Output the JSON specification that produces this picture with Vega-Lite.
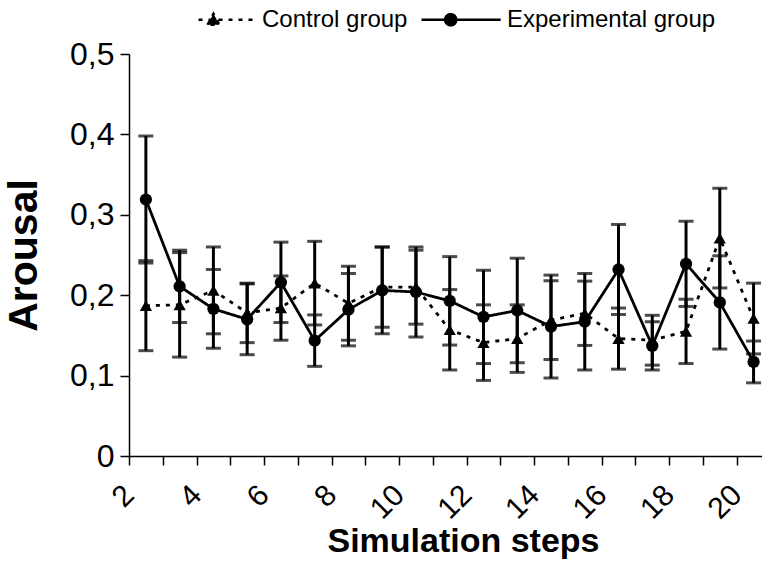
{
  "$schema": "https://vega.github.io/schema/vega-lite/v6.json",
  "autosize": {"type": "none"},
  "width": 633,
  "height": 402,
  "padding": {"left": 129, "top": 54, "right": 0, "bottom": 113},
  "background": "white",
  "config": {
    "view": {"stroke": null},
    "font": "Liberation Sans",
    "axis": {
      "domainColor": "black", "domainWidth": 1.5,
      "tickColor": "black", "tickWidth": 1.5, "tickSize": 9,
      "labelFont": "Liberation Sans", "labelFontSize": 32, "labelColor": "black",
      "titleFont": "Liberation Sans", "titleFontWeight": "bold", "titleColor": "black",
      "grid": false
    },
    "legend": {"labelFont": "Liberation Sans", "labelFontSize": 24, "labelColor": "black", "padding": 0}
  },
  "data": {
    "values": [
      {"step": 2, "group": "Control group", "mean": 0.187, "err": 0.056},
      {"step": 3, "group": "Control group", "mean": 0.188, "err": 0.065},
      {"step": 4, "group": "Control group", "mean": 0.206, "err": 0.054},
      {"step": 5, "group": "Control group", "mean": 0.178, "err": 0.037},
      {"step": 6, "group": "Control group", "mean": 0.184, "err": 0.040},
      {"step": 7, "group": "Control group", "mean": 0.215, "err": 0.052},
      {"step": 8, "group": "Control group", "mean": 0.190, "err": 0.046},
      {"step": 9, "group": "Control group", "mean": 0.210, "err": 0.050},
      {"step": 10, "group": "Control group", "mean": 0.210, "err": 0.046},
      {"step": 11, "group": "Control group", "mean": 0.157, "err": 0.050},
      {"step": 12, "group": "Control group", "mean": 0.141, "err": 0.047},
      {"step": 13, "group": "Control group", "mean": 0.146, "err": 0.042},
      {"step": 14, "group": "Control group", "mean": 0.169, "err": 0.049},
      {"step": 15, "group": "Control group", "mean": 0.1775, "err": 0.040},
      {"step": 16, "group": "Control group", "mean": 0.146, "err": 0.038},
      {"step": 17, "group": "Control group", "mean": 0.144, "err": 0.031},
      {"step": 18, "group": "Control group", "mean": 0.155, "err": 0.040},
      {"step": 19, "group": "Control group", "mean": 0.271, "err": 0.062},
      {"step": 20, "group": "Control group", "mean": 0.171, "err": 0.044},
      {"step": 2, "group": "Experimental group", "mean": 0.319, "err": 0.079},
      {"step": 3, "group": "Experimental group", "mean": 0.211, "err": 0.045},
      {"step": 4, "group": "Experimental group", "mean": 0.183, "err": 0.049},
      {"step": 5, "group": "Experimental group", "mean": 0.170, "err": 0.044},
      {"step": 6, "group": "Experimental group", "mean": 0.216, "err": 0.050},
      {"step": 7, "group": "Experimental group", "mean": 0.1435, "err": 0.032},
      {"step": 8, "group": "Experimental group", "mean": 0.182, "err": 0.045},
      {"step": 9, "group": "Experimental group", "mean": 0.206, "err": 0.054},
      {"step": 10, "group": "Experimental group", "mean": 0.204, "err": 0.056},
      {"step": 11, "group": "Experimental group", "mean": 0.193, "err": 0.055},
      {"step": 12, "group": "Experimental group", "mean": 0.173, "err": 0.058},
      {"step": 13, "group": "Experimental group", "mean": 0.181, "err": 0.065},
      {"step": 14, "group": "Experimental group", "mean": 0.161, "err": 0.064},
      {"step": 15, "group": "Experimental group", "mean": 0.167, "err": 0.060},
      {"step": 16, "group": "Experimental group", "mean": 0.232, "err": 0.056},
      {"step": 17, "group": "Experimental group", "mean": 0.137, "err": 0.030},
      {"step": 18, "group": "Experimental group", "mean": 0.239, "err": 0.053},
      {"step": 19, "group": "Experimental group", "mean": 0.191, "err": 0.058},
      {"step": 20, "group": "Experimental group", "mean": 0.117, "err": 0.026}
    ]
  },
  "encoding": {
    "x": {
      "field": "step", "type": "quantitative",
      "scale": {"domain": [1.5, 20.25], "nice": false, "zero": false},
      "axis": {
        "title": "Simulation steps", "titleFontSize": 34, "titleX": 334,
        "values": [2, 3, 4, 5, 6, 7, 8, 9, 10, 11, 12, 13, 14, 15, 16, 17, 18, 19, 20],
        "tickOffset": -16.88,
        "labelExpr": "datum.value % 2 === 0 ? datum.value : ''",
        "labelFontSize": 30,
        "labelAngle": -45, "labelAlign": "right", "labelBaseline": "middle",
        "labelOffset": 0, "labelPadding": 25,
        "labelOverlap": false, "labelFlush": false, "titlePadding": 0
      }
    },
    "y": {
      "field": "mean", "type": "quantitative",
      "scale": {"domain": [0, 0.5], "nice": false},
      "axis": {
        "title": "Arousal", "titleFontSize": 41,
        "values": [0, 0.1, 0.2, 0.3, 0.4, 0.5],
        "labelExpr": "datum.value === 0 ? '0' : replace(format(datum.value, '.1f'), '.', ',')",
        "labelPadding": 6, "titlePadding": 24
      }
    }
  },
  "layer": [
    {
      "mark": {"type": "errorbar", "ticks": {"size": 15, "thickness": 3, "color": "black"}, "rule": {"strokeWidth": 3, "color": "black"}},
      "encoding": {
        "yError": {"field": "err"},
        "detail": {"field": "group"}
      }
    },
    {
      "mark": {"type": "line", "color": "black", "strokeWidth": 2.8},
      "encoding": {
        "strokeDash": {
          "field": "group", "type": "nominal",
          "scale": {"domain": ["Control group", "Experimental group"], "range": [[4, 6], [1, 0]]}
        }
      }
    },
    {
      "mark": {"type": "point", "filled": true, "color": "black", "opacity": 0},
      "encoding": {
        "shape": {
          "field": "group", "type": "nominal",
          "scale": {
            "domain": ["Control group", "Experimental group"],
            "range": [
              "M-0.45,0H1M-0.225,0.125L-0.075,-0.15L0.075,0.125Z",
              "M-1,0H0.98M-0.41,0A0.14,0.14,0,1,0,-0.13,0A0.14,0.14,0,1,0,-0.41,0Z"
            ]
          },
          "legend": {
            "title": null, "orient": "none", "legendX": 46, "legendY": -76, "direction": "horizontal",
            "symbolSize": 6400, "symbolStrokeWidth": 2.5, "symbolOpacity": 1,
            "symbolFillColor": "black", "symbolStrokeColor": "black",
            "columnPadding": 8, "labelOffset": 4, "labelLimit": 400
          }
        }
      }
    },
    {
      "mark": {"type": "point", "filled": true, "color": "black", "opacity": 1},
      "encoding": {
        "shape": {
          "condition": {"test": "datum.group === 'Control group'", "value": "triangle-up"},
          "value": "circle"
        },
        "size": {"value": 150}
      }
    }
  ]
}
